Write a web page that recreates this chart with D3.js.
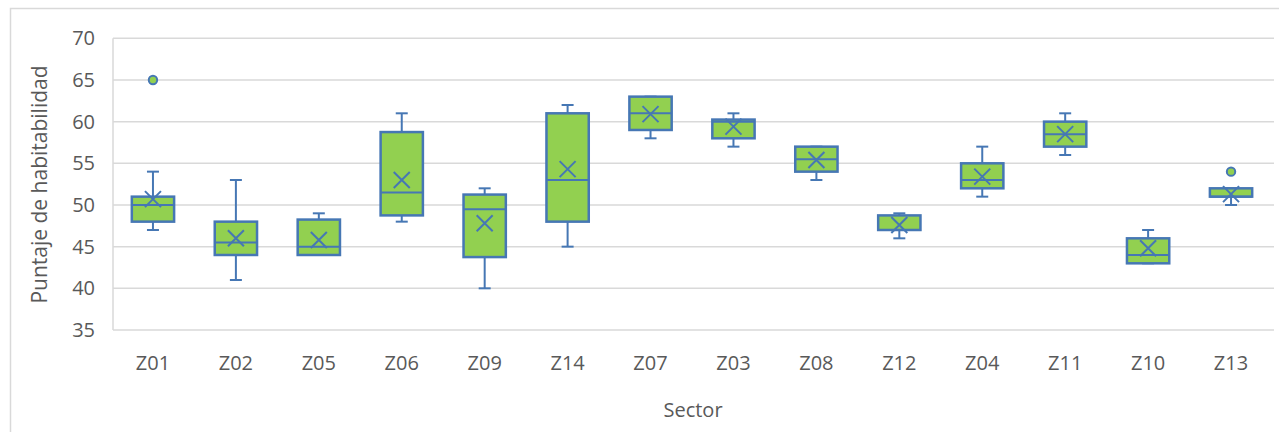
<!DOCTYPE html>
<html>
<head>
<meta charset="utf-8">
<script src="https://cdn.jsdelivr.net/npm/d3@7"></script>
<style>
  html, body { margin: 0; padding: 0; background: #fff; }
  svg { display: block; }
  text { font-family: "Open Sans", "Noto Sans", sans-serif; fill: #595959; }
</style>
</head>
<body>
<svg id="chart" width="1279" height="432"></svg>
<script>
const categories = ["Z01","Z02","Z05","Z06","Z09","Z14","Z07","Z03","Z08","Z12","Z04","Z11","Z10","Z13"];
const whiskerLow  = [47, 41, 44, 48, 40, 45, 58, 57, 53, 46, 51, 56, 43, 50];
const q1          = [48, 44, 44, 48.75, 43.75, 48, 59, 58, 54, 47, 52, 57, 43, 51];
const median      = [50, 45.5, 45, 51.5, 49.5, 53, 61, 60, 55.5, 47, 53, 58.5, 44, 51];
const q3          = [51, 48, 48.25, 58.75, 51.25, 61, 63, 60.25, 57, 48.75, 55, 60, 46, 52];
const whiskerHigh = [54, 53, 49, 61, 52, 62, 63, 61, 57, 49, 57, 61, 47, 52];
const means       = [50.7, 46, 45.8, 53, 47.8, 54.3, 60.9, 59.4, 55.4, 47.6, 53.4, 58.5, 44.8, 51.3];
const outlierCats = ["Z01", "Z13"];
const outlierVals = [65, 54];
const yTicks = [35, 40, 45, 50, 55, 60, 65, 70];

const svg = d3.select("#chart");
const fill = "#92d050", stroke = "#4677b4", grid = "#d9d9d9";

// outer chart border
svg.append("rect").attr("x", 10.5).attr("y", 8.5).attr("width", 1300).attr("height", 500)
  .attr("fill", "none").attr("stroke", grid).attr("stroke-width", 1.5);

const x = d3.scaleBand().domain(categories).range([111.5, 1272.5]).paddingInner(0).paddingOuter(0);
const y = d3.scaleLinear().domain([35, 70]).range([330, 38.3]);

// gridlines
svg.append("g").selectAll("line").data(yTicks).join("line")
  .attr("x1", 113).attr("x2", 1274)
  .attr("y1", d => y(d)).attr("y2", d => y(d))
  .attr("stroke", grid).attr("stroke-width", 1.5);
// left axis line
svg.append("line").attr("x1", 113).attr("x2", 113).attr("y1", y(70)).attr("y2", y(35))
  .attr("stroke", grid).attr("stroke-width", 1.5);

// y tick labels
svg.append("g").selectAll("text").data(yTicks).join("text")
  .attr("x", 95).attr("y", d => y(d)).attr("dy", "0.35em")
  .attr("text-anchor", "end").attr("font-size", 20).text(d => d);

// x labels
svg.append("g").selectAll("text").data(categories).join("text")
  .attr("x", d => x(d) + x.bandwidth() / 2).attr("y", 363).attr("dy", "0.35em")
  .attr("text-anchor", "middle").attr("font-size", 20).text(d => d);

// axis titles
svg.append("text").attr("x", 693).attr("y", 410).attr("dy", "0.35em")
  .attr("text-anchor", "middle").attr("font-size", 20).text("Sector");
svg.append("text").attr("transform", "translate(40,184.5) rotate(-90)").attr("dy", "0.35em")
  .attr("text-anchor", "middle").attr("font-size", 21).text("Puntaje de habitabilidad");

const bw = x.bandwidth() * 0.51;
const cap = 12;
const data = categories.map((c, i) => ({c, lo: whiskerLow[i], q1: q1[i], med: median[i], q3: q3[i], hi: whiskerHigh[i], mean: means[i]}));

const g = svg.append("g").selectAll("g").data(data).join("g")
  .attr("transform", d => `translate(${x(d.c) + x.bandwidth() / 2},0)`);

// whiskers
g.append("line").attr("x1", 0).attr("x2", 0).attr("y1", d => y(d.hi)).attr("y2", d => y(d.q3))
  .attr("stroke", stroke).attr("stroke-width", 2);
g.append("line").attr("x1", 0).attr("x2", 0).attr("y1", d => y(d.q1)).attr("y2", d => y(d.lo))
  .attr("stroke", stroke).attr("stroke-width", 2);
g.append("line").attr("x1", -cap / 2).attr("x2", cap / 2).attr("y1", d => y(d.hi)).attr("y2", d => y(d.hi))
  .attr("stroke", stroke).attr("stroke-width", 2);
g.append("line").attr("x1", -cap / 2).attr("x2", cap / 2).attr("y1", d => y(d.lo)).attr("y2", d => y(d.lo))
  .attr("stroke", stroke).attr("stroke-width", 2);

// boxes
g.append("rect").attr("x", -bw / 2).attr("width", bw)
  .attr("y", d => y(d.q3)).attr("height", d => y(d.q1) - y(d.q3))
  .attr("fill", fill).attr("stroke", stroke).attr("stroke-width", 2.5);
// median
g.append("line").attr("x1", -bw / 2).attr("x2", bw / 2).attr("y1", d => y(d.med)).attr("y2", d => y(d.med))
  .attr("stroke", stroke).attr("stroke-width", 2);
// mean X
const m = 8;
g.append("path").attr("d", d => {
  const cy = y(d.mean);
  return `M${-m},${cy - m}L${m},${cy + m}M${-m},${cy + m}L${m},${cy - m}`;
}).attr("stroke", stroke).attr("stroke-width", 2).attr("fill", "none");

// outliers
svg.append("g").selectAll("circle").data(outlierCats).join("circle")
  .attr("cx", d => x(d) + x.bandwidth() / 2).attr("cy", (d, i) => y(outlierVals[i]))
  .attr("r", 4.2).attr("fill", fill).attr("stroke", stroke).attr("stroke-width", 2);
</script>
</body>
</html>
